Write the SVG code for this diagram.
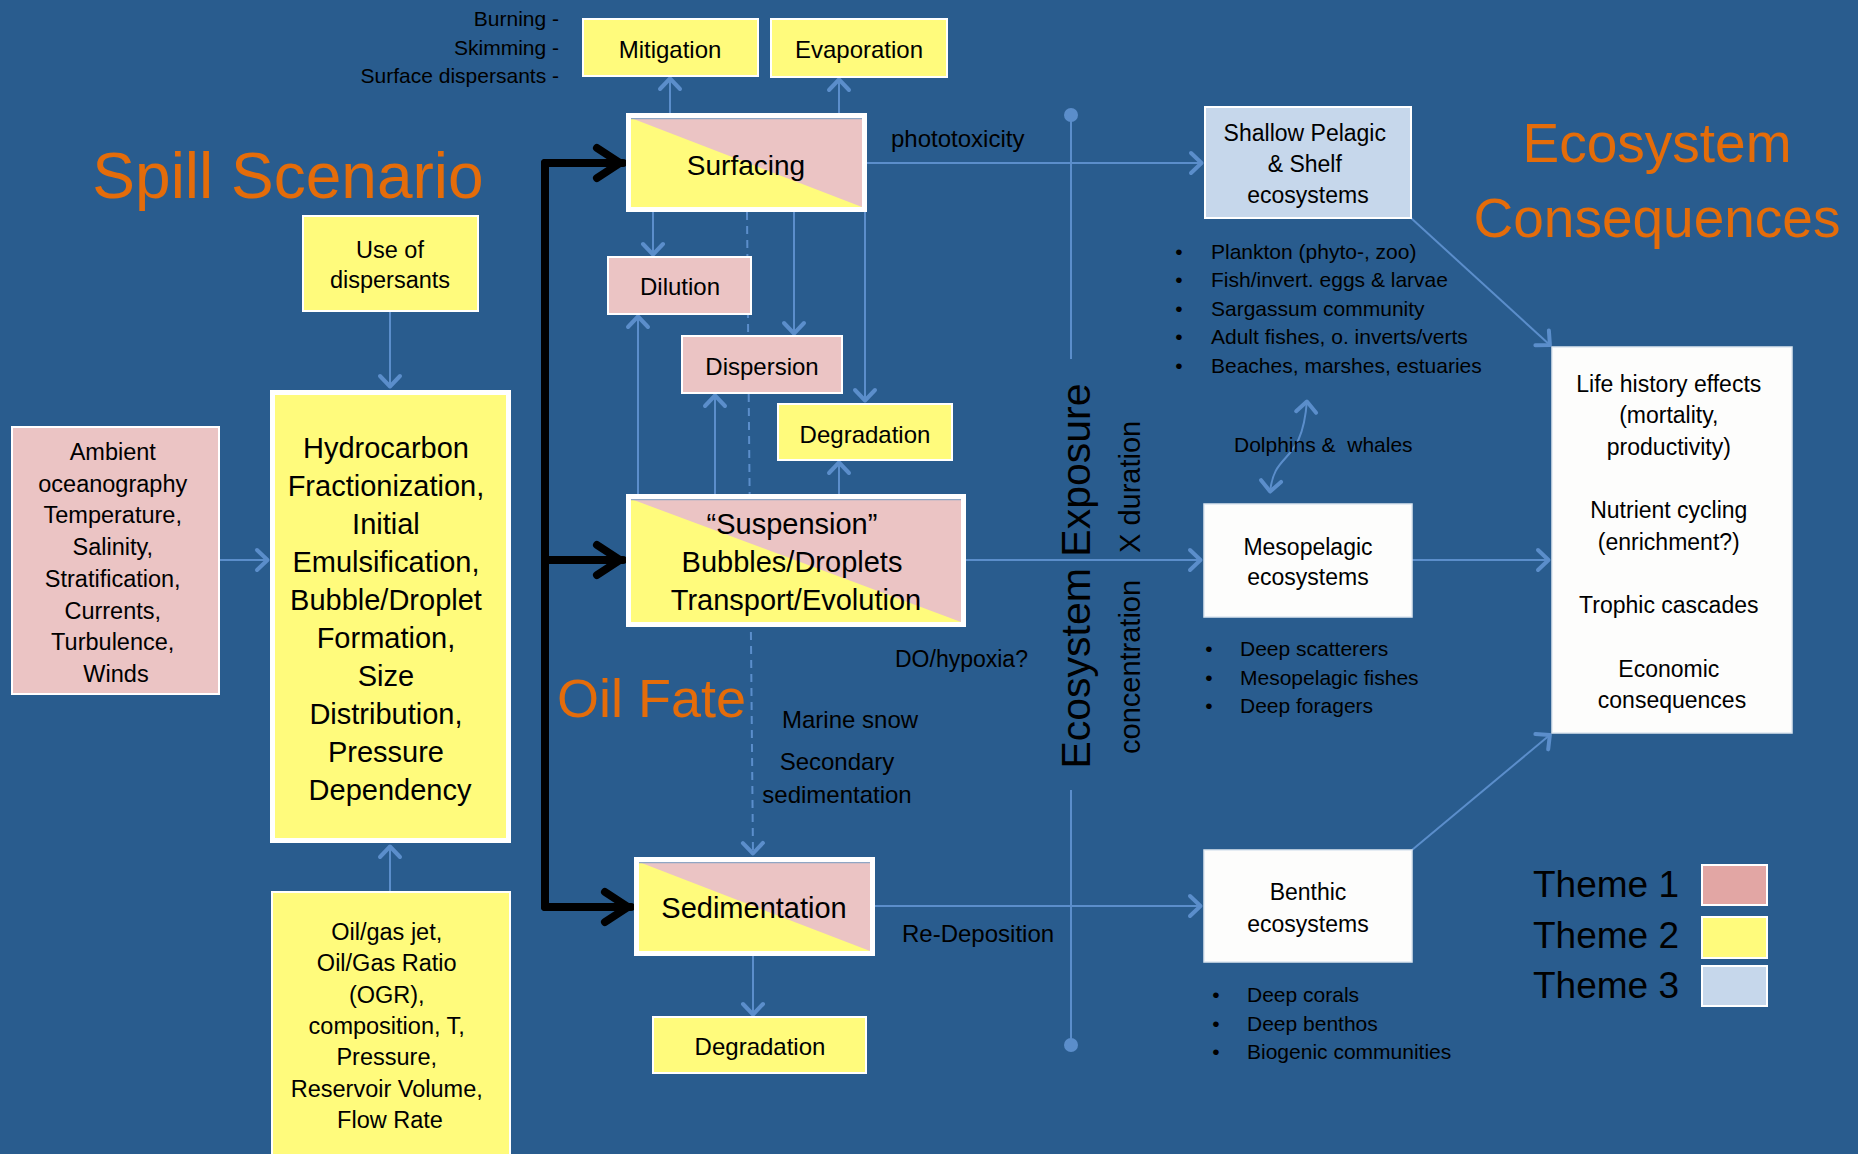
<svg xmlns="http://www.w3.org/2000/svg" width="1858" height="1154" viewBox="0 0 1858 1154">
<defs>
<style>
text{font-family:"Liberation Sans",Arial,sans-serif;fill:#000}
.c{text-anchor:middle}
.r{text-anchor:end}
.t24{font-size:24px}
.t23{font-size:23px}
.t21{font-size:21px}
.big{fill:#E46C0A}
.ln{fill:none;stroke:#5B8ECB;stroke-width:2}
.ar{marker-end:url(#a)}
.blk{fill:none;stroke:#000;stroke-width:8;stroke-linecap:round;stroke-linejoin:round}
.yb{fill:#FFFB7C;stroke:#fff;stroke-width:2}
.pb{fill:#EBC4C4;stroke:#fff;stroke-width:2}
.wb{fill:#FDFDFC;stroke:#DDE6F0;stroke-width:1.5}
.thick{fill:none;stroke:#fff;stroke-width:5}
</style>
<marker id="a" viewBox="-16 -13 18 26" markerWidth="18" markerHeight="26" refX="0" refY="0" orient="auto-start-reverse" markerUnits="userSpaceOnUse">
<path d="M-12,-10 L-1.5,0 L-12,10" fill="none" stroke="#5B8ECB" stroke-width="4" stroke-linecap="round" stroke-linejoin="round"/>
</marker>
<marker id="b" viewBox="-34 -21 38 42" markerWidth="38" markerHeight="42" refX="0" refY="0" orient="auto" markerUnits="userSpaceOnUse">
<path d="M-26,-15 L-3,0 L-26,15" fill="none" stroke="#000" stroke-width="8" stroke-linecap="round" stroke-linejoin="round"/>
</marker>
</defs>
<rect x="0" y="0" width="1858" height="1154" fill="#295C8E"/>

<g id="titles">
<text x="288" y="198" class="c big" font-size="64">Spill Scenario</text>
<text x="1657" y="162" class="c big" font-size="55">Ecosystem</text>
<text x="1657" y="237" class="c big" font-size="55">Consequences</text>
<text x="557" y="717" class="big" font-size="54">Oil Fate</text>
</g>

<g id="connectors">
<path class="ln ar" d="M390,311 L390,388"/>
<path class="ln ar" d="M390,892 L390,845"/>
<path class="ln ar" d="M219,560 L269,560"/>
<path class="ln ar" d="M670,113 L670,77"/>
<path class="ln ar" d="M839,113 L839,78"/>
<path class="ln ar" d="M867,163 L1203,163"/>
<path class="ln ar" d="M653,212 L653,256"/>
<path class="ln ar" d="M638,494 L638,315"/>
<path class="ln ar" d="M794,212 L794,335"/>
<path class="ln ar" d="M715,494 L715,394"/>
<path class="ln ar" d="M865,212 L865,402"/>
<path class="ln ar" d="M839,494 L839,461"/>
<path class="ln ar" d="M747,212 L753,855" stroke-dasharray="8,6"/>
<path class="ln ar" d="M966,560 L1202,560"/>
<path class="ln ar" d="M875,906 L1202,906"/>
<path class="ln ar" d="M753,956 L753,1016"/>
<path class="ln ar" d="M1411,218 L1551,346"/>
<path class="ln ar" d="M1412,560 L1550,560"/>
<path class="ln ar" d="M1412,850 L1551,734"/>
<path class="ln" d="M1270,493 C1274,448 1302,468 1307,400" marker-start="url(#a)" marker-end="url(#a)"/>
<path class="ln" d="M1071,115 L1071,359 M1071,790 L1071,1045"/>
<circle cx="1071" cy="115" r="7" fill="#5B8ECB"/>
<circle cx="1071" cy="1045" r="7" fill="#5B8ECB"/>
<path class="blk" d="M545,163 L545,907"/>
<path class="blk" d="M545,163 L623,163" marker-end="url(#b)"/>
<path class="blk" d="M545,560 L623,560" marker-end="url(#b)"/>
<path class="blk" d="M545,907 L631,907" marker-end="url(#b)"/>
</g>

<g id="mitigation-notes">
<text x="559" y="26" class="r t21">Burning -</text>
<text x="559" y="55" class="r t21">Skimming -</text>
<text x="559" y="83" class="r t21">Surface dispersants -</text>
</g>

<g id="mitigation">
<rect x="583" y="19" width="175" height="57" class="yb"/>
<text x="670" y="58" class="c t24">Mitigation</text>
</g>
<g id="evaporation">
<rect x="771" y="19" width="176" height="58" class="yb"/>
<text x="859" y="58" class="c t24">Evaporation</text>
</g>

<g id="use-dispersants">
<rect x="303" y="216" width="175" height="95" class="yb"/>
<text x="390" y="258" class="c" font-size="23.5">Use of</text>
<text x="390" y="288" class="c" font-size="23.5">dispersants</text>
</g>

<g id="ambient">
<rect x="12" y="427" width="207" height="267" class="pb"/>
<text class="c" font-size="23.5">
<tspan x="116" y="460">Ambient</tspan>
<tspan x="116" y="491.7">oceanography</tspan>
<tspan x="116" y="523.4">Temperature,</tspan>
<tspan x="116" y="555.1">Salinity,</tspan>
<tspan x="116" y="586.8">Stratification,</tspan>
<tspan x="116" y="618.5">Currents,</tspan>
<tspan x="116" y="650.2">Turbulence,</tspan>
<tspan x="116" y="681.9">Winds</tspan>
</text>
</g>

<g id="hydrocarbon">
<rect x="272.5" y="392.5" width="236" height="448" fill="#FFFB7C" stroke="#fff" stroke-width="5"/>
<text class="c" font-size="29">
<tspan x="390" y="458">Hydrocarbon</tspan>
<tspan x="390" y="496">Fractionization,</tspan>
<tspan x="390" y="534">Initial</tspan>
<tspan x="390" y="572">Emulsification,</tspan>
<tspan x="390" y="610">Bubble/Droplet</tspan>
<tspan x="390" y="648">Formation,</tspan>
<tspan x="390" y="686">Size</tspan>
<tspan x="390" y="724">Distribution,</tspan>
<tspan x="390" y="762">Pressure</tspan>
<tspan x="390" y="800">Dependency</tspan>
</text>
</g>

<g id="oilgas">
<rect x="272" y="892" width="238" height="275" class="yb"/>
<text class="c" font-size="23.5">
<tspan x="390" y="940">Oil/gas jet,</tspan>
<tspan x="390" y="971.3">Oil/Gas Ratio</tspan>
<tspan x="390" y="1002.6">(OGR),</tspan>
<tspan x="390" y="1033.9">composition, T,</tspan>
<tspan x="390" y="1065.2">Pressure,</tspan>
<tspan x="390" y="1096.5">Reservoir Volume,</tspan>
<tspan x="390" y="1127.8">Flow Rate</tspan>
</text>
</g>

<g id="surfacing">
<rect x="631" y="118" width="231" height="89" fill="#EBC4C4"/>
<polygon points="631,118 862,207 631,207" fill="#FFFB7C"/>
<line x1="631" y1="118.5" x2="862" y2="118.5" stroke="#8FA6C4" stroke-width="1.5"/>
<rect x="628.5" y="115.5" width="236" height="94" class="thick"/>
<text x="746" y="175" class="c" font-size="28">Surfacing</text>
</g>

<g id="dilution">
<rect x="608" y="257" width="143" height="57" class="pb"/>
<text x="680" y="295" class="c t24">Dilution</text>
</g>

<g id="dispersion">
<rect x="682" y="336" width="160" height="57" class="pb"/>
<text x="762" y="375" class="c t24">Dispersion</text>
</g>

<g id="degradation-upper">
<rect x="778" y="404" width="174" height="56" class="yb"/>
<text x="865" y="443" class="c t24">Degradation</text>
</g>

<g id="suspension">
<rect x="631" y="499" width="330" height="123" fill="#EBC4C4"/>
<polygon points="631,499 961,622 631,622" fill="#FFFB7C"/>
<line x1="631" y1="499.5" x2="961" y2="499.5" stroke="#8FA6C4" stroke-width="1.5"/>
<rect x="628.5" y="496.5" width="335" height="128" class="thick"/>
<text class="c" font-size="29">
<tspan x="796" y="534">“Suspension”</tspan>
<tspan x="796" y="572">Bubbles/Droplets</tspan>
<tspan x="796" y="610">Transport/Evolution</tspan>
</text>
</g>

<g id="sedimentation">
<rect x="639" y="862" width="231" height="89" fill="#EBC4C4"/>
<polygon points="639,862 870,951 639,951" fill="#FFFB7C"/>
<line x1="639" y1="862.5" x2="870" y2="862.5" stroke="#8FA6C4" stroke-width="1.5"/>
<rect x="636.5" y="859.5" width="236" height="94" class="thick"/>
<text x="754" y="918" class="c" font-size="29">Sedimentation</text>
</g>

<g id="degradation-lower">
<rect x="653" y="1017" width="213" height="56" class="yb"/>
<text x="760" y="1055" class="c t24">Degradation</text>
</g>

<g id="labels">
<text x="891" y="147" class="t24">phototoxicity</text>
<text x="895" y="667" class="t23">DO/hypoxia?</text>
<text x="782" y="728" class="t24">Marine snow</text>
<text x="837" y="770" class="c t24">Secondary</text>
<text x="837" y="803" class="c t24">sedimentation</text>
<text x="902" y="942" class="t24">Re-Deposition</text>
<text x="1234" y="452" class="t21" xml:space="preserve">Dolphins &amp;  whales</text>
</g>

<g id="exposure">
<text transform="translate(1090,576) rotate(-90)" class="c" font-size="41">Ecosystem Exposure</text>
<text transform="translate(1140,754) rotate(-90)" font-size="29">concentration</text>
<text transform="translate(1140,553) rotate(-90)" font-size="29">X duration</text>
</g>

<g id="shallow">
<rect x="1205" y="107" width="206" height="111" fill="#C6D7EB" stroke="#fff" stroke-width="2"/>
<text class="c t23">
<tspan x="1308" y="141">Shallow Pelagic</tspan>
<tspan x="1308" y="172">&amp; Shelf</tspan>
<tspan x="1308" y="203">ecosystems</tspan>
</text>
</g>
<g id="shallow-list" class="t21">
<text x="1179" y="259" class="c t21">•</text><text x="1211" y="259" class="t21">Plankton (phyto-, zoo)</text>
<text x="1179" y="287.4" class="c t21">•</text><text x="1211" y="287.4" class="t21">Fish/invert. eggs &amp; larvae</text>
<text x="1179" y="315.8" class="c t21">•</text><text x="1211" y="315.8" class="t21">Sargassum community</text>
<text x="1179" y="344.2" class="c t21">•</text><text x="1211" y="344.2" class="t21">Adult fishes, o. inverts/verts</text>
<text x="1179" y="372.6" class="c t21">•</text><text x="1211" y="372.6" class="t21">Beaches, marshes, estuaries</text>
</g>

<g id="mesopelagic">
<rect x="1204" y="504" width="208" height="113" class="wb"/>
<text x="1308" y="555" class="c t23">Mesopelagic</text>
<text x="1308" y="585" class="c t23">ecosystems</text>
</g>
<g id="meso-list">
<text x="1209" y="656" class="c t21">•</text><text x="1240" y="656" class="t21">Deep scatterers</text>
<text x="1209" y="684.5" class="c t21">•</text><text x="1240" y="684.5" class="t21">Mesopelagic fishes</text>
<text x="1209" y="713" class="c t21">•</text><text x="1240" y="713" class="t21">Deep foragers</text>
</g>

<g id="benthic">
<rect x="1204" y="850" width="208" height="112" class="wb"/>
<text x="1308" y="900" class="c t23">Benthic</text>
<text x="1308" y="932" class="c t23">ecosystems</text>
</g>
<g id="benthic-list">
<text x="1216" y="1002" class="c t21">•</text><text x="1247" y="1002" class="t21">Deep corals</text>
<text x="1216" y="1030.5" class="c t21">•</text><text x="1247" y="1030.5" class="t21">Deep benthos</text>
<text x="1216" y="1059" class="c t21">•</text><text x="1247" y="1059" class="t21">Biogenic communities</text>
</g>

<g id="life-history">
<rect x="1552" y="347" width="240" height="386" class="wb"/>
<text class="c t23">
<tspan x="1672" y="392">Life history effects</tspan>
<tspan x="1672" y="423">(mortality,</tspan>
<tspan x="1672" y="455">productivity)</tspan>
<tspan x="1672" y="518">Nutrient cycling</tspan>
<tspan x="1672" y="550">(enrichment?)</tspan>
<tspan x="1672" y="613">Trophic cascades</tspan>
<tspan x="1672" y="677">Economic</tspan>
<tspan x="1672" y="708">consequences</tspan>
</text>
</g>

<g id="legend">
<text x="1533" y="897" font-size="37">Theme 1</text>
<text x="1533" y="948" font-size="37">Theme 2</text>
<text x="1533" y="998" font-size="37">Theme 3</text>
<rect x="1702" y="865" width="65" height="40" fill="#E2A6A4" stroke="#fff" stroke-width="2"/>
<rect x="1702" y="917" width="65" height="41" fill="#FFFB7C" stroke="#fff" stroke-width="2"/>
<rect x="1702" y="966" width="65" height="40" fill="#C6D7EB" stroke="#fff" stroke-width="2"/>
</g>
</svg>
